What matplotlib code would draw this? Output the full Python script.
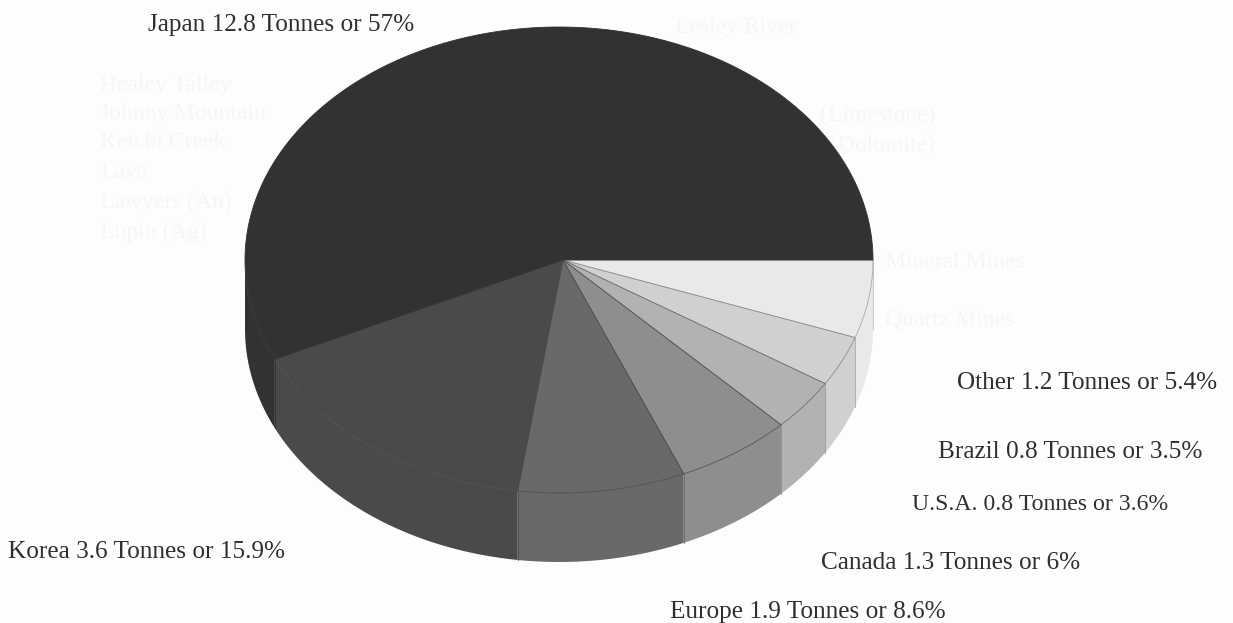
import numpy as np
import matplotlib.pyplot as plt
from matplotlib.patches import Polygon

# Pie data, going clockwise on screen from the 3 o'clock position
countries = ['Other', 'Brazil', 'U.S.A.', 'Canada', 'Europe', 'Korea', 'Japan']
tonnes = ['1.2', '0.8', '0.8', '1.3', '1.9', '3.6', '12.8']
percent = [5.4, 3.5, 3.6, 6, 8.6, 15.9, 57]
percent_text = ['5.4', '3.5', '3.6', '6', '8.6', '15.9', '57']

# Faint print showing through the scanned page
ghost_text = ['Healey Talley', 'Johnny Mountain', 'Ketchi Creek', 'Lava',
              'Lawyers (Au)', 'Lupin (Ag)', 'Lesley River', '(Limestone)',
              '(Dolomite)', 'Mineral Mines', 'Quartz Mines']

# Styles and layout, all in image pixels
colors = ['#e9e9e9', '#d0d0d0', '#b2b2b2', '#8e8e8e', '#696969', '#4a4a4a', '#323232']
edges = ['#a8a8a8', '#8c8c8c', '#6e6e6e', '#505050', '#4c4c4c', '#4a4a4a', '#323232']
wall_edges = ['#bdbdbd', '#a8a8a8', '#9a9a9a', '#8e8e8e', '#696969', '#4a4a4a', '#323232']
label_pos = [(957, 383), (938, 452), (912, 505), (821, 563), (670, 612), (8, 552), (148, 25)]
label_size = [18.2, 18.2, 17.1, 18.2, 18.2, 18.2, 18.2]
ghost_pos = [(100, 85), (100, 113), (100, 143), (100, 172), (100, 202), (100, 232),
             (675, 27), (820, 115), (830, 145), (885, 262), (885, 320)]
cx, cy = 559, 260
apex = (563, 260)
rx, ry = 314, 233
depth = 69


def rim(a, b):
    t = np.radians(np.linspace(a, b, 200))
    return cx + rx*np.cos(t), cy + ry*np.sin(t)


fig = plt.figure(figsize=(12.33, 6.23), dpi=100, facecolor='#fdfdfd')
ax = fig.add_axes([0, 0, 1, 1])
ax.set_xlim(0, 1233)
ax.set_ylim(623, 0)
ax.axis('off')

for (gx, gy), g in zip(ghost_pos, ghost_text):
    ax.text(gx, gy, g, family='Liberation Serif', fontsize=17, color='#f6f6f6', va='center')

angles = np.cumsum([0] + percent) * 3.6

# Outer walls first, only the front half of the pie shows one
for i in range(len(percent)):
    a, b = angles[i], min(angles[i+1], 180)
    if a >= 180:
        continue
    x, y = rim(a, b)
    wall = np.column_stack([np.r_[x, x[::-1]], np.r_[y, y[::-1] + depth]])
    ax.add_patch(Polygon(wall, closed=True, fc=colors[i], ec='none', zorder=2))
    ax.plot([x[0], x[0]], [y[0], y[0] + depth], color=wall_edges[i], lw=0.6, zorder=2)

# Top face
for i in range(len(percent)):
    x, y = rim(angles[i], angles[i+1])
    top = np.column_stack([np.r_[apex[0], x], np.r_[apex[1], y]])
    ax.add_patch(Polygon(top, closed=True, fc=colors[i], ec=edges[i], lw=0.6, zorder=3))

for i in range(len(percent)):
    label = f'{countries[i]} {tonnes[i]} Tonnes or {percent_text[i]}%'
    ax.text(label_pos[i][0], label_pos[i][1], label, family='Liberation Serif',
            fontsize=label_size[i], color='#2f2f2f', va='center', ha='left')

fig.savefig('out.png', dpi=100, facecolor=fig.get_facecolor())
